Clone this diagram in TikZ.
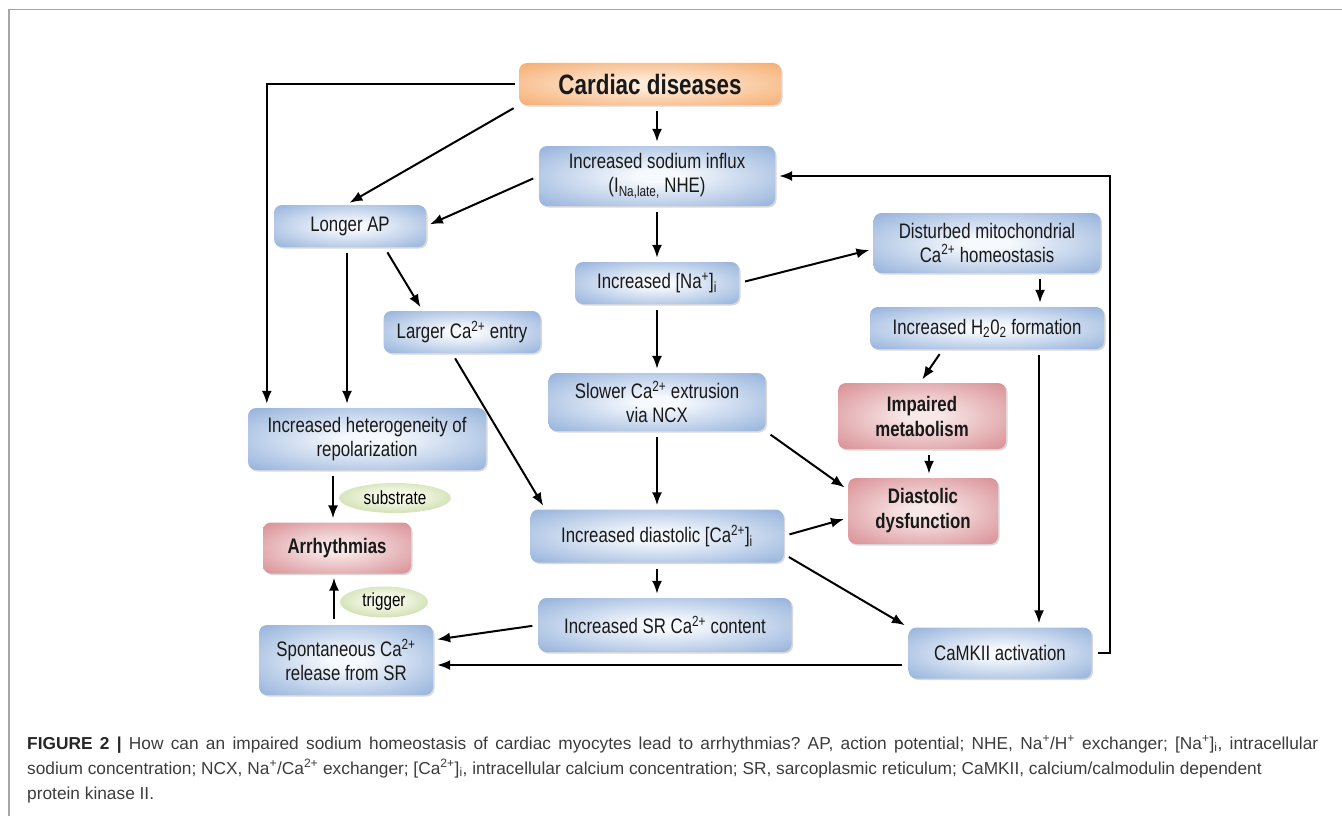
\documentclass[tikz,border=0pt]{standalone}
\usepackage{fontspec}
\setmainfont{Liberation Sans}
\newfontfamily\narrowsf[FakeStretch=0.8]{Liberation Sans}
\usepackage{tikz}
\usetikzlibrary{calc,shapes.geometric,shadows,arrows.meta}
\tikzset{>={Latex[length=13pt,width=10pt]}}
\frenchspacing

\definecolor{boxblue}{HTML}{80A3D4}
\definecolor{blueinner}{HTML}{F6F9FD}
\definecolor{boxorange}{HTML}{F4A05C}
\definecolor{orangeinner}{HTML}{FEEBD9}
\definecolor{boxred}{HTML}{D27C83}
\definecolor{redinner}{HTML}{F8E8E8}
\definecolor{boxgreen}{HTML}{B2CC82}
\definecolor{greeninner}{HTML}{F3F7E6}
\definecolor{captiongray}{HTML}{3C3C3C}
\definecolor{framegray}{HTML}{A6A6A6}

\pgfdeclareradialshading{blueglow}{\pgfpoint{0bp}{0bp}}{color(0bp)=(blueinner); color(5bp)=(blueinner); color(42bp)=(boxblue); color(100bp)=(boxblue)}
\pgfdeclareradialshading{orangeglow}{\pgfpoint{0bp}{0bp}}{color(0bp)=(orangeinner); color(5bp)=(orangeinner); color(42bp)=(boxorange); color(100bp)=(boxorange)}
\pgfdeclareradialshading{redglow}{\pgfpoint{0bp}{0bp}}{color(0bp)=(redinner); color(5bp)=(redinner); color(42bp)=(boxred); color(100bp)=(boxred)}
\pgfdeclareradialshading{greenglow}{\pgfpoint{0bp}{3bp}}{color(0bp)=(greeninner); color(10bp)=(greeninner); color(44bp)=(boxgreen); color(100bp)=(boxgreen)}

\tikzset{
  wh/.style 2 args={minimum width=#1, minimum height=#2},
  flowbox/.style={rounded corners=8pt, align=center, inner sep=1pt, text=black!90,
    font=\narrowsf\fontsize{21}{24}\selectfont,
    drop shadow={shadow xshift=1.5pt, shadow yshift=-1.5pt, opacity=0.3}},
  bluebox/.style={flowbox, shading=blueglow},
  orangebox/.style={flowbox, shading=orangeglow, font=\narrowsf\bfseries\fontsize{28}{32}\selectfont},
  redbox/.style={flowbox, shading=redglow, font=\narrowsf\bfseries\fontsize{21}{25}\selectfont},
  tag/.style={ellipse, shading=greenglow, inner sep=0pt, font=\narrowsf\fontsize{19}{22}\selectfont},
  arr/.style={->, line width=2pt, shorten <=6pt, shorten >=4pt},
  capline/.style={anchor=base west, inner sep=0pt, text=captiongray, font=\fontsize{17.3}{20}\selectfont}
}

\begin{document}
\begin{tikzpicture}[x=1pt, y=-1pt]
  \useasboundingbox (0,0) rectangle (1342,816);
  \draw[framegray, line width=1.5pt] (9,816) -- (9,9.5) -- (1342,9.5); % frame

  % boxes
  \node[orangebox, wh={262pt}{42pt}] (cardiac) at (650,84) {Cardiac diseases};
  \node[bluebox, wh={236pt}{60pt}] (influx) at (657,176) {Increased sodium influx\\(I\textsubscript{Na,late,} NHE)};
  \node[bluebox, wh={152pt}{42pt}] (longap) at (350,226) {Longer AP};
  \node[bluebox, wh={164pt}{42pt}] (nai) at (657,283) {Increased [Na\textsuperscript{+}]\textsubscript{i}};
  \node[bluebox, wh={227pt}{60pt}] (mito) at (987,243) {Disturbed mitochondrial\\Ca\textsuperscript{2+} homeostasis};
  \node[bluebox, wh={234pt}{42pt}] (hydro) at (987,328) {Increased H\textsubscript{2}0\textsubscript{2} formation};
  \node[bluebox, wh={157pt}{42pt}] (caentry) at (462,332) {Larger Ca\textsuperscript{2+} entry};
  \node[bluebox, wh={217pt}{58pt}] (slower) at (657,402) {Slower Ca\textsuperscript{2+} extrusion\\via NCX};
  \node[redbox, wh={168pt}{66pt}] (impaired) at (922,416) {Impaired\\metabolism};
  \node[bluebox, wh={238pt}{62pt}] (hetero) at (367,439) {Increased heterogeneity of\\repolarization};
  \node[redbox, wh={150pt}{66pt}] (diadys) at (923,511) {Diastolic\\dysfunction};
  \node[bluebox, wh={253pt}{53pt}] (diaca) at (657,536) {Increased diastolic [Ca\textsuperscript{2+}]\textsubscript{i}};
  \node[redbox, wh={148pt}{51pt}] (arrhy) at (337,548) {Arrhythmias};
  \node[tag, wh={112pt}{30pt}] (substrate) at (395,498) {substrate};
  \node[tag, wh={88pt}{31pt}] (trigger) at (384,602) {trigger};
  \node[bluebox, wh={253pt}{54pt}] (srcont) at (665,625) {Increased SR Ca\textsuperscript{2+} content};
  \node[bluebox, wh={174pt}{70pt}] (spont) at (346,660) {Spontaneous Ca\textsuperscript{2+}\\release from SR};
  \node[bluebox, wh={183pt}{51pt}] (camkii) at (1000,653) {CaMKII activation};

  % connectors
  \draw[arr] (cardiac.south -| influx) -- (influx.north);
  \draw[arr, shorten <=4pt] (cardiac.west) -| ([xshift=19pt]hetero.north west);
  \draw[arr] (cardiac.south west) -- ([xshift=-4pt]longap.north);
  \draw[arr] (influx.west) -- (longap.east);
  \draw[arr] (influx) -- (nai);
  \draw[arr] (nai.east) -- ([yshift=-6pt]mito.west);
  \draw[arr] ([xshift=53pt]mito.south) -- ([xshift=53pt]mito.south |- hydro.north);
  \draw[arr] ([xshift=-44pt]hydro.south) -- ([xshift=-2pt]impaired.north);
  \draw[arr] ([xshift=52pt]hydro.south) -- ([xshift=52pt]hydro.south |- camkii.north);
  \draw[arr] ([xshift=7pt]impaired.south) -- ([xshift=7pt]impaired.south |- diadys.north);
  \draw[arr] ([xshift=-3pt]longap.south) -- ([xshift=-3pt]longap.south |- hetero.north);
  \draw[arr] ($(longap.south)!0.45!(longap.south east)$) -- ($(caentry.north west)!0.5!(caentry.north)$);
  \draw[arr] ([xshift=-10pt]caentry.south) -- ([xshift=15pt]diaca.north west);
  \draw[arr] (nai) -- (slower);
  \draw[arr] (slower) -- (diaca);
  \draw[arr] (slower.south east) -- ([yshift=-12pt]diadys.north west);
  \draw[arr] (diaca.east) -- ([yshift=-7pt]diadys.west);
  \draw[arr] ([yshift=-18pt]diaca.east) -- (camkii.north west);
  \draw[arr] (diaca.south) -- (diaca.south |- srcont.north);
  \draw[arr] (srcont.west) -- ([yshift=20pt]spont.east);
  \draw[arr] ([yshift=-12pt]camkii.west) -- ([yshift=-12pt]camkii.west -| spont.east);
  \draw[arr] (camkii.east) -- ([xshift=18pt]camkii.east) |- (influx.east);
  \draw[arr] ([xshift=-34pt]hetero.south) -- ([xshift=-34pt]hetero.south |- arrhy.north);
  \draw[arr] ([xshift=-12pt]spont.north) -- ([xshift=-12pt]spont.north |- arrhy.south);

  % caption
  \node[capline] (cap1) at (27,749) {\makebox[1291pt][s]{{\bfseries\color{black!85}FIGURE 2 |} How can an impaired sodium homeostasis of cardiac myocytes lead to arrhythmias? AP, action potential; NHE, Na\textsuperscript{+}/H\textsuperscript{+} exchanger; [Na\textsuperscript{+}]\textsubscript{i}, intracellular}};
  \node[capline] (cap2) at (27,774) {sodium concentration; NCX, Na\textsuperscript{+}/Ca\textsuperscript{2+} exchanger; [Ca\textsuperscript{2+}]\textsubscript{i}, intracellular calcium concentration; SR, sarcoplasmic reticulum; CaMKII, calcium/calmodulin dependent};
  \node[capline] (cap3) at (27,799) {protein kinase II.};
\end{tikzpicture}
\end{document}
